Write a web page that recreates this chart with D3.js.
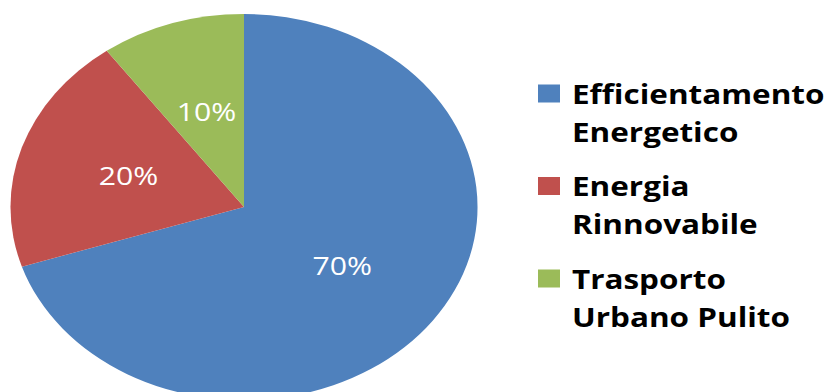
<!DOCTYPE html>
<html>
<head>
<meta charset="utf-8">
<style>
  body { margin: 0; background: #fff; }
  .pct { font-family: 'Open Sans', sans-serif; font-size: 25px; fill: #fff; }
  .legend-text { font-family: 'Open Sans', sans-serif; font-size: 26px; font-weight: bold; fill: #000; }
</style>
</head>
<body>
<div id="chart"></div>
<script src="https://d3js.org/d3.v7.min.js"></script>
<script>
  // Data
  const categories = ['Efficientamento Energetico', 'Energia Rinnovabile', 'Trasporto Urbano Pulito'];
  const legendLines = [['Efficientamento', 'Energetico'], ['Energia', 'Rinnovabile'], ['Trasporto', 'Urbano Pulito']];
  const values = [70, 20, 10];
  const colors = ['#4F81BD', '#C0504D', '#9BBB59'];

  const width = 833;
  const height = 392;
  const sx = 1.21; // the whole picture is stretched sideways

  const svg = d3.select('#chart')
    .append('svg')
    .attr('width', width)
    .attr('height', height);

  const root = svg.append('g')
    .attr('transform', `scale(${sx}, 1)`);

  const radius = 193;
  const pieG = root.append('g')
    .attr('transform', `translate(${244 / sx}, 207)`);

  const pie = d3.pie().sort(null).value(d => d);
  const arc = d3.arc().innerRadius(0).outerRadius(radius);
  const labelArc = d3.arc().innerRadius(radius * 0.52).outerRadius(radius * 0.52);

  const arcs = pie(values);
  const total = d3.sum(values);

  pieG.selectAll('path')
    .data(arcs)
    .enter()
    .append('path')
    .attr('d', arc)
    .attr('fill', (d, i) => colors[i]);

  pieG.selectAll('text')
    .data(arcs)
    .enter()
    .append('text')
    .attr('class', 'pct')
    .attr('transform', d => `translate(${labelArc.centroid(d)})`)
    .attr('text-anchor', 'middle')
    .attr('dy', '0.36em')
    .text(d => Math.round(d.data / total * 100) + '%');

  // Legend
  const legend = root.append('g')
    .attr('transform', `translate(${538 / sx}, 0)`);

  const items = legend.selectAll('g')
    .data(categories)
    .enter()
    .append('g')
    .attr('transform', (d, i) => `translate(0, ${103.5 + i * 92.5})`);

  items.append('rect')
    .attr('x', 0)
    .attr('y', -19)
    .attr('width', 22 / sx)
    .attr('height', 18)
    .attr('fill', (d, i) => colors[i]);

  items.each(function (d, i) {
    const t = d3.select(this).append('text')
      .attr('class', 'legend-text')
      .attr('x', 34 / sx)
      .attr('y', 0);
    legendLines[i].forEach((line, j) => {
      t.append('tspan')
        .attr('x', 34 / sx)
        .attr('dy', j === 0 ? 0 : 38.5)
        .text(line);
    });
  });
</script>
</body>
</html>
